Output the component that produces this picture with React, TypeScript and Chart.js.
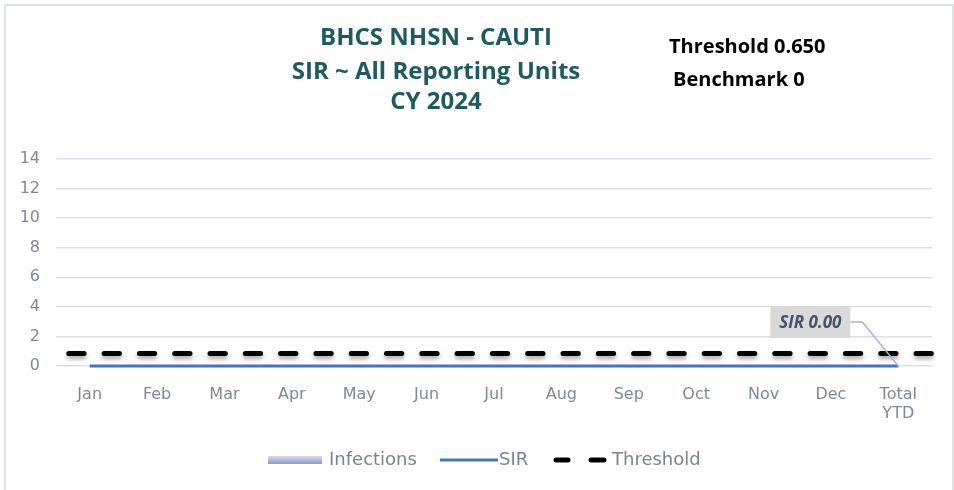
import React, { useEffect, useRef } from "react";
import { Chart, registerables } from "chart.js";

Chart.register(...registerables);

const categories = [["Jan"], ["Feb"], ["Mar"], ["Apr"], ["May"], ["Jun"], ["Jul"], ["Aug"], ["Sep"], ["Oct"], ["Nov"], ["Dec"], ["Total", "YTD"]];
const infections = [0, 0, 0, 0, 0, 0, 0, 0, 0, 0, 0, 0, 0];
const sir = [0, 0, 0, 0, 0, 0, 0, 0, 0, 0, 0, 0, 0];
const thresholdValue = 0.85;
const yTicks = [0, 2, 4, 6, 8, 10, 12, 14];
const titleLines = ["BHCS NHSN - CAUTI", "SIR ~ All Reporting Units", "CY 2024"];
const infoLines = ["Threshold 0.650", "Benchmark 0"];
const sirLabel = "SIR 0.00";

const AXIS_FONT = "'DejaVu Sans', sans-serif";

const shadowPlugin = {
  id: "thresholdShadow",
  beforeDatasetDraw(chart: any, args: any) {
    if (args.meta.label === "Threshold") {
      const ctx = chart.ctx;
      ctx.save();
      ctx.shadowColor = "rgba(0,0,0,0.35)";
      ctx.shadowBlur = 4;
      ctx.shadowOffsetY = 3;
    }
  },
  afterDatasetDraw(chart: any, args: any) {
    if (args.meta.label === "Threshold") {
      chart.ctx.restore();
    }
  },
};

const decorPlugin = {
  id: "decor",
  afterDraw(chart: any) {
    const ctx = chart.ctx;
    ctx.save();
    // title
    ctx.fillStyle = "#1f5b5e";
    ctx.font = "bold 24px 'Open Sans', sans-serif";
    ctx.textAlign = "center";
    ctx.textBaseline = "middle";
    const ty = [38, 72, 102];
    titleLines.forEach((t, i) => ctx.fillText(t, 436, ty[i]));
    // info
    ctx.fillStyle = "#000";
    ctx.font = "bold 20px 'Open Sans', sans-serif";
    ctx.textAlign = "left";
    ctx.fillText(infoLines[0], 669, 47);
    ctx.fillText(infoLines[1], 673, 80);

    // SIR data label on last point
    const meta = chart.getDatasetMeta(1);
    const pt = meta.data[meta.data.length - 1];
    if (pt) {
      const px = pt.x, py = pt.y;
      const bx = px - 128, by = py - 60, bw = 80, bh = 32;
      ctx.strokeStyle = "#a9b6c8";
      ctx.lineWidth = 1.5;
      ctx.beginPath();
      ctx.moveTo(bx + bw, by + bh / 2);
      ctx.lineTo(bx + bw + 12, by + bh / 2);
      ctx.lineTo(px, py);
      ctx.stroke();
      ctx.fillStyle = "#d9d9d9";
      ctx.fillRect(bx, by, bw, bh);
      ctx.fillStyle = "#44546a";
      ctx.font = "italic bold 17px 'Open Sans', sans-serif";
      ctx.textAlign = "center";
      ctx.fillText(sirLabel, bx + bw / 2, by + bh / 2 + 1);
    }

    // legend
    const ly = 460;
    const grad = ctx.createLinearGradient(0, ly - 4, 0, ly + 4);
    grad.addColorStop(0, "#d6daea");
    grad.addColorStop(1, "#8f9ac6");
    ctx.fillStyle = grad;
    ctx.fillRect(268, ly - 4, 54, 8);
    ctx.font = "18px " + AXIS_FONT;
    ctx.fillStyle = "#7b8494";
    ctx.textAlign = "left";
    ctx.fillText(chart.data.datasets[0].label, 329, ly);

    ctx.strokeStyle = "#4472c4";
    ctx.lineWidth = 3;
    ctx.beginPath();
    ctx.moveTo(440, ly);
    ctx.lineTo(498, ly);
    ctx.stroke();
    ctx.fillText(chart.data.datasets[1].label, 499, ly);

    ctx.strokeStyle = "#000";
    ctx.lineWidth = 5;
    ctx.lineCap = "round";
    ctx.beginPath();
    ctx.moveTo(556, ly);
    ctx.lineTo(568, ly);
    ctx.moveTo(591, ly);
    ctx.lineTo(604, ly);
    ctx.stroke();
    ctx.fillText(chart.data.datasets[2].label, 612, ly);
    ctx.restore();
  },
};

export default function App() {
  const ref = useRef<HTMLCanvasElement>(null);
  useEffect(() => {
    const canvas = ref.current;
    if (!canvas) return;
    const chart = new Chart(canvas, {
      type: "bar",
      data: {
        labels: categories as any,
        datasets: [
          {
            type: "bar",
            label: "Infections",
            data: infections,
            backgroundColor: "#a9b2d6",
            xAxisID: "x",
            order: 3,
          },
          {
            type: "line",
            label: "SIR",
            data: sir,
            borderColor: "#4472c4",
            borderWidth: 3,
            pointRadius: 0,
            clip: false,
            xAxisID: "x",
            order: 2,
          },
          {
            type: "line",
            label: "Threshold",
            data: [
              { x: 0, y: thresholdValue },
              { x: 1, y: thresholdValue },
            ] as any,
            borderColor: "#000",
            borderWidth: 5,
            borderDash: [15.3, 20],
            borderDashOffset: 22.5,
            borderCapStyle: "round",
            pointRadius: 0,
            clip: false,
            xAxisID: "x2",
            order: 1,
          },
        ] as any,
      },
      options: {
        animation: false,
        responsive: false,
        maintainAspectRatio: false,
        layout: { padding: { left: 0, right: 22, top: 159, bottom: 0 } },
        plugins: {
          legend: { display: false },
          title: { display: false },
          tooltip: { enabled: false },
        },
        scales: {
          x: {
            type: "category",
            offset: true,
            grid: { display: false },
            border: { display: false },
            ticks: {
              color: "#808795",
              font: { family: AXIS_FONT, size: 16 },
              padding: 11,
              maxRotation: 0,
              autoSkip: false,
            },
            afterFit(scale: any) {
              scale.height = 124;
            },
          },
          x2: {
            type: "linear",
            position: "top",
            display: true,
            offset: false,
            min: 0,
            max: 1,
            grid: { display: false, offset: false },
            border: { display: false },
            ticks: { display: false },
            afterFit(scale: any) {
              scale.height = 0;
            },
          },
          y: {
            min: 0,
            max: 14,
            afterBuildTicks(scale: any) {
              scale.ticks = yTicks.map((v) => ({ value: v }));
            },
            grid: { color: "#dadfe8", lineWidth: 1.5, drawTicks: false },
            border: { display: false },
            ticks: {
              color: "#808795",
              font: { family: AXIS_FONT, size: 16 },
              padding: 16,
            },
            afterFit(scale: any) {
              scale.width = 56;
            },
          },
        },
      } as any,
      plugins: [shadowPlugin, decorPlugin],
    });
    return () => chart.destroy();
  }, []);
  return (
    <div style={{ position: "fixed", left: 0, top: 0, width: 954, height: 490, background: "#fff" }}>
      <div
        style={{
          position: "absolute",
          left: 4,
          top: 4,
          width: 950,
          height: 600,
          borderLeft: "2px solid #dde1e8",
          borderTop: "2px solid #dde1e8",
          borderRight: "2px solid #dde1e8",
          boxSizing: "border-box",
        }}
      />
      <canvas ref={ref} width={954} height={490} style={{ position: "absolute", left: 0, top: 0 }} />
    </div>
  );
}
